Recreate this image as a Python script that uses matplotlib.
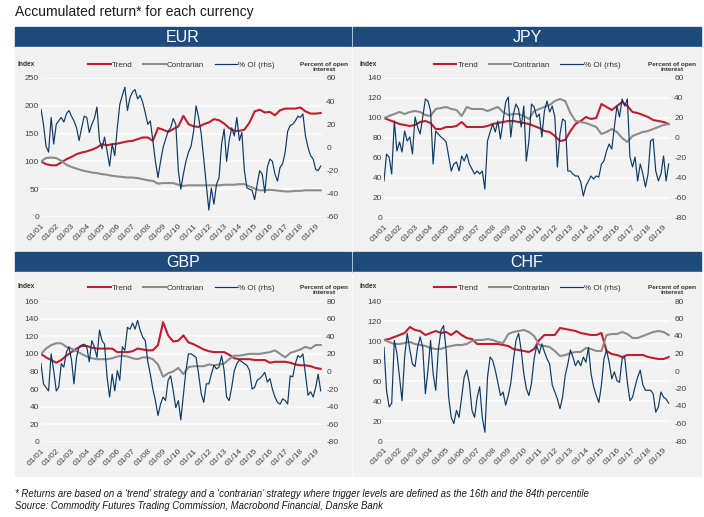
import matplotlib
matplotlib.use('Agg')
import matplotlib.pyplot as plt
from matplotlib.patches import Rectangle
import matplotlib.dates as mdates
import pandas as pd

plt.rcParams['font.family'] = ['Liberation Sans', 'DejaVu Sans']
plt.rcParams['axes.unicode_minus'] = False

# ---- data ----
# trend / contrarian: every 4 months from Jan 2001, % OI: every 2 months
ret_dates = pd.date_range('2001-01-01', periods=56, freq='4MS')
oi_dates = pd.date_range('2001-01-01', periods=111, freq='2MS')

eur_trend = [100, 95, 93, 93, 98, 104, 108, 113, 116, 118,
             121, 125, 131, 129, 131, 132, 134, 136, 137, 140,
             143, 143, 137, 160, 157, 153, 158, 163, 182, 167,
             163, 162, 167, 170, 176, 174, 168, 160, 155, 155,
             157, 170, 190, 193, 188, 189, 183, 192, 195, 195,
             195, 197, 190, 186, 186, 187]
eur_contra = [100, 106, 107, 106, 101, 94, 90, 87, 84, 82,
              80, 79, 77, 76, 74, 73, 72, 71, 71, 70,
              68, 66, 65, 60, 61, 61, 61, 58, 56, 57,
              57, 57, 57, 57, 57, 57, 58, 58, 58, 59,
              59, 55, 51, 48, 48, 49, 48, 47, 46, 46,
              47, 47, 48, 48, 48, 48]
eur_oi = [33, 20, 1, -4, 26, 3, 20, 23, 26, 22,
          29, 32, 27, 23, 17, 6, 17, 27, 26, 13,
          20, 25, 35, 6, -1, 9, -3, -16, 3, -7,
          17, 37, 45, 52, 32, 43, 48, 50, 42, 45,
          39, 30, 20, 23, 6, -12, -26, -12, 0, 7,
          14, 17, 25, 20, -20, -36, -23, -12, -4, 1,
          14, 36, 26, 12, -10, -32, -54, -35, -49, -32,
          -26, 3, 16, -12, 6, 17, 10, 26, 6, 13,
          -20, -35, -36, -37, -45, -32, -20, -23, -39, -17,
          -10, -12, -23, -29, -17, -14, -4, 14, 19, 20,
          23, 27, 26, 29, 10, 0, -7, -10, -19, -20,
          -16]

jpy_trend = [100, 98, 96, 94, 93, 92, 93, 96, 97, 95,
             89, 89, 91, 91, 92, 96, 91, 91, 91, 91,
             92, 94, 95, 96, 97, 97, 96, 95, 94, 92,
             90, 87, 86, 82, 77, 78, 87, 94, 97, 101,
             99, 100, 114, 111, 108, 112, 116, 112, 106, 105,
             103, 101, 98, 97, 96, 94]
jpy_contra = [100, 102, 104, 106, 104, 106, 107, 106, 103, 102,
              109, 110, 111, 109, 108, 102, 111, 109, 109, 109,
              107, 109, 111, 106, 103, 104, 104, 102, 99, 107,
              109, 111, 113, 117, 119, 117, 105, 97, 96, 95,
              93, 91, 84, 86, 89, 86, 80, 76, 82, 84,
              86, 87, 89, 91, 93, 94]
jpy_oi = [-43, -16, -19, -36, 17, -13, -4, -14, 7, -3,
          1, -16, 21, 11, 4, 21, 39, 37, 27, -26,
          7, 4, 1, -1, -4, -18, -33, -26, -24, -33,
          -18, -23, -16, -26, -31, -36, -33, -36, -33, -51,
          -3, 6, 14, 6, 17, -1, 17, 36, 41, 1,
          24, 34, 29, 11, 32, -23, -3, 34, 31, 21,
          24, 1, 27, 37, 26, 32, 21, -29, 4, 19,
          17, -33, -33, -36, -38, -38, -44, -58, -48, -43,
          -38, -41, -38, -39, -26, -23, -13, -6, -11, 11,
          32, 21, 39, 32, 39, -19, -29, -19, -43, -26,
          -36, -49, -36, -3, -1, -33, -43, -36, -18, -43,
          -26]

gbp_trend = [100, 96, 93, 90, 93, 98, 102, 106, 109, 109,
             107, 106, 106, 106, 106, 102, 102, 102, 103, 106,
             105, 104, 104, 110, 136, 121, 114, 115, 121, 113,
             111, 108, 105, 103, 102, 102, 102, 99, 95, 94,
             94, 94, 93, 93, 93, 90, 91, 91, 91, 90,
             88, 87, 87, 86, 84, 83]
gbp_contra = [100, 106, 110, 112, 112, 108, 106, 103, 100, 97,
              95, 94, 94, 94, 95, 97, 98, 97, 95, 94,
              96, 96, 94, 88, 74, 78, 80, 84, 77, 85,
              86, 86, 86, 88, 87, 88, 89, 94, 98, 98,
              99, 100, 100, 100, 101, 102, 104, 100, 96, 101,
              103, 105, 108, 106, 110, 110]
gbp_oi = [9, -14, -18, -22, 20, 1, -22, -18, 9, 5,
          22, 28, 13, -14, 16, 28, 30, 31, 28, 11,
          35, 28, 16, 47, 35, 31, -6, -29, -3, -22,
          1, -10, 28, 24, 50, 48, 55, 48, 58, 47,
          39, 35, 11, -3, -20, -33, -50, -37, -29, -33,
          -10, -5, -22, -41, -33, -55, -27, 1, 20, 20,
          18, 16, -3, -25, -35, -14, -14, -3, 7, 3,
          5, 18, 1, -29, -33, -18, 1, 9, 13, 11,
          9, 7, 1, -20, -18, -10, -8, -5, -1, -12,
          -8, -20, -29, -35, -37, -31, -33, -37, -5, -6,
          9, 18, 16, 20, -3, -27, -23, -29, -18, -3,
          -22]

chf_trend = [101, 102, 104, 106, 108, 114, 111, 110, 106, 108,
             110, 108, 109, 106, 110, 106, 103, 102, 97, 97,
             97, 97, 97, 96, 95, 92, 91, 90, 89, 92,
             101, 106, 106, 106, 113, 112, 111, 110, 108, 107,
             106, 106, 108, 90, 87, 86, 84, 86, 86, 86,
             86, 84, 83, 82, 82, 84]
chf_contra = [101, 99, 97, 97, 98, 99, 97, 96, 95, 93,
              92, 92, 94, 95, 96, 96, 97, 100, 101, 101,
              102, 101, 99, 98, 107, 109, 110, 111, 109, 105,
              96, 95, 94, 90, 85, 86, 88, 89, 89, 93,
              92, 90, 90, 106, 107, 107, 109, 107, 103, 103,
              105, 107, 109, 110, 109, 106]
chf_oi = [27, -22, -41, -37, 35, 20, -7, -34, 16, 43,
          24, 8, 5, 27, 39, 27, -26, 1, 35, -3,
          -22, 24, 46, 52, 24, -30, -53, -60, -45, -53,
          -30, -7, 1, -14, -45, -53, -30, -18, -53, -70,
          -7, 16, 12, 1, -13, -28, -24, -39, -28, -14,
          12, 35, 43, 24, -3, -20, -28, -14, 14, 29,
          20, 31, 22, 14, 8, -16, -24, -32, -43, -30,
          -5, 8, 24, 16, 6, 12, 6, 16, 10, 27,
          -3, -18, -28, -36, -16, 14, 24, 10, -9, -1,
          -11, -13, 14, 16, -13, -34, -30, -18, -7, 1,
          -16, -22, -22, -22, -26, -47, -41, -24, -30, -32,
          -37]

# ---- style ----
RED = '#BE1E2D'
GREY = '#8C8C8C'
NAVY = '#0B3A66'
HEAD = '#1F4A7C'
BG = '#F2F2F2'
TXT = '#404040'

W, H = 704, 517
fig = plt.figure(figsize=(W / 100, H / 100), dpi=100)


def rect(l, t, r, b):
    # pixel box -> figure fraction [x, y, w, h]
    return [l / W, 1 - b / H, (r - l) / W, (b - t) / H]


def draw_panel(name, panel, axbox, trend, contra, oi, lticks, rticks):
    pl, pt, pr, pb = panel
    hx = rect(pl, pt, pr, pt + 20)
    fig.add_artist(Rectangle(hx[:2], hx[2], hx[3], transform=fig.transFigure,
                             color=HEAD, zorder=0))
    bx = rect(pl, pt + 20, pr, pb)
    fig.add_artist(Rectangle(bx[:2], bx[2], bx[3], transform=fig.transFigure,
                             color=BG, zorder=0))
    fig.text((pl + pr) / 2 / W, 1 - (pt + 10.5) / H, name, color='white',
             fontsize=11.5, ha='center', va='center')

    l, t, r, b = axbox
    ax = fig.add_axes(rect(l, t, r, b))
    ax.set_facecolor('none')
    h1, = ax.plot(ret_dates, trend, color=RED, lw=1.5, label='Trend')
    h2, = ax.plot(ret_dates, contra, color=GREY, lw=1.5, label='Contrarian')
    ax.set_ylim(lticks[0], lticks[-1])
    ax.set_yticks(lticks)
    ax.grid(axis='y', color='white', lw=1.1)
    ax.set_axisbelow(True)

    ax2 = ax.twinx()
    h3, = ax2.plot(oi_dates, oi, color=NAVY, lw=0.85, label='% OI (rhs)')
    ax2.set_ylim(rticks[0], rticks[-1])
    ax2.set_yticks(rticks)

    ax.set_xlim(pd.Timestamp('2001-01-01'), pd.Timestamp('2019-06-01'))
    ax.xaxis.set_major_locator(mdates.YearLocator())
    ax.xaxis.set_major_formatter(mdates.DateFormatter('%m/%y'))

    for a in (ax, ax2):
        for s in a.spines.values():
            s.set_visible(False)
        a.tick_params(length=0, labelsize=6, colors=TXT)
    ax.tick_params(axis='y', pad=1.5)
    ax2.tick_params(axis='y', pad=3)
    ax.tick_params(axis='x', pad=4)
    plt.setp(ax.get_xticklabels(), rotation=45, ha='right',
             rotation_mode='anchor')

    axh = b - t
    ax2.legend([h1, h2, h3], ['Trend', 'Contrarian', '% OI (rhs)'],
               loc='center', bbox_to_anchor=(0.5, 1 + 13 / axh), ncol=3,
               frameon=False, fontsize=5.8, handlelength=2.8,
               handletextpad=0.15, columnspacing=1.3, borderpad=0,
               borderaxespad=0, labelcolor='#333333')

    fig.text((l - 24) / W, 1 - (t - 14) / H, 'Index', fontsize=4.8,
             fontweight='bold', va='center', color='#333333')
    fig.text((r + 2) / W, 1 - (t - 6) / H, 'Percent of open\ninterest',
             fontsize=4.6, fontweight='bold', ha='center', va='bottom',
             color='#333333', linespacing=1.1)


draw_panel('EUR', (15, 27, 351, 250), (41, 78, 322, 217),
           eur_trend, eur_contra, eur_oi,
           [0, 50, 100, 150, 200, 250], [-60, -40, -20, 0, 20, 40, 60])
draw_panel('JPY', (353, 27, 701, 250), (384, 78, 670, 218),
           jpy_trend, jpy_contra, jpy_oi,
           [0, 20, 40, 60, 80, 100, 120, 140],
           [-80, -60, -40, -20, 0, 20, 40, 60])
draw_panel('GBP', (15, 252, 351, 476), (41, 301, 322, 442),
           gbp_trend, gbp_contra, gbp_oi,
           [0, 20, 40, 60, 80, 100, 120, 140, 160],
           [-80, -60, -40, -20, 0, 20, 40, 60, 80])
draw_panel('CHF', (353, 252, 701, 476), (384, 301, 670, 441),
           chf_trend, chf_contra, chf_oi,
           [0, 20, 40, 60, 80, 100, 120, 140],
           [-80, -60, -40, -20, 0, 20, 40, 60, 80])

fig.text(15 / W, 1 - 12 / H, 'Accumulated return* for each currency',
         fontsize=10, va='center', color='#1A1A1A')
fig.text(15 / W, 1 - 494 / H,
         '* Returns are based on a \u2018trend\u2019 strategy and a '
         '\u2018contrarian\u2019 strategy where trigger levels are defined '
         'as the 16th and the 84th percentile',
         fontsize=6.9, style='italic', va='center', color='#1A1A1A')
fig.text(15 / W, 1 - 506 / H,
         'Source: Commodity Futures Trading Commission, Macrobond Financial, '
         'Danske Bank',
         fontsize=6.9, style='italic', va='center', color='#1A1A1A')

fig.savefig('out.png', dpi=100)
